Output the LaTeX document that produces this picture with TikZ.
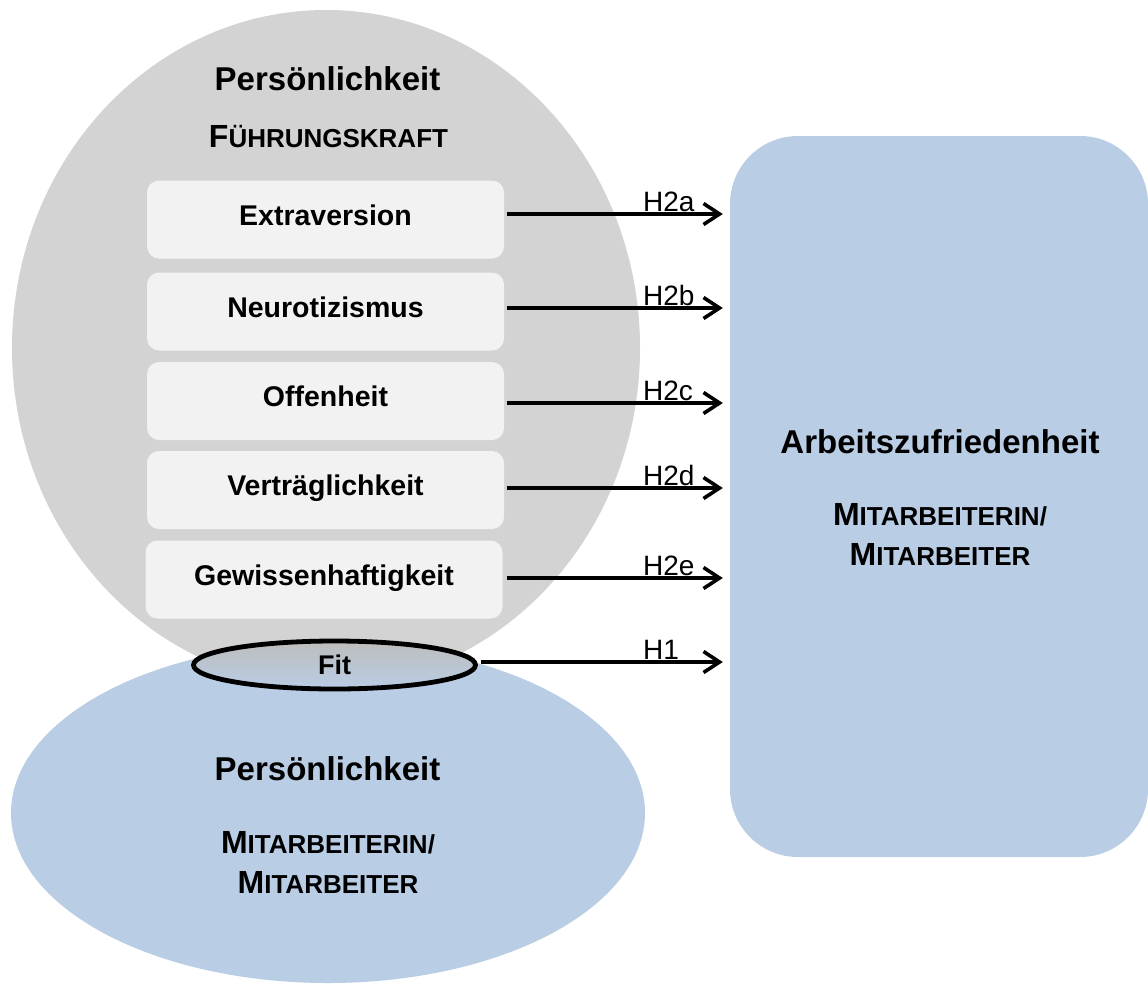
\documentclass[tikz,border=0pt]{standalone}
\usepackage{fontspec}
\setmainfont{Liberation Sans}
\usetikzlibrary{arrows.meta,shapes.geometric}
\definecolor{graycirc}{HTML}{D3D3D3}
\definecolor{bluefill}{HTML}{B9CDE5}
\definecolor{boxfill}{HTML}{F2F2F2}
\definecolor{fitgray}{HTML}{BDBDBD}
\newcommand{\fsz}[1]{\fontsize{#1}{#1}\selectfont}
\newcommand{\mysc}[2]{{\fsz{32}#1}{\fsz{26}#2}}
\begin{document}
\begin{tikzpicture}[x=1pt,y=-1pt,
  bigtxt/.style={inner sep=0pt, anchor=base, font=\bfseries\fsz{33}},
  sctxt/.style={inner sep=0pt, anchor=base, font=\bfseries},
  kbox/.style={rectangle, rounded corners=12pt, fill=boxfill, minimum width=357pt,
    minimum height=78pt, inner sep=0pt, text height=20.5pt, text depth=9pt,
    font=\bfseries\fsz{28.5}},
  harrow/.style={line width=3.6pt, -{Straight Barb[length=16pt,width=21pt]},
    shorten >=7pt},
  hlab/.style={inner sep=0pt, anchor=base west, font=\fsz{28}}]
\useasboundingbox (0,0) rectangle (1148,983);
% big shapes
\node[ellipse, fill=graycirc, minimum width=628pt, minimum height=676pt, inner sep=0pt] (fk) at (326,348) {};
\node[ellipse, fill=bluefill, minimum width=634pt, minimum height=340pt, inner sep=0pt] (ma) at (328,813) {};
\node[rectangle, rounded corners=68pt, fill=bluefill, minimum width=418pt, minimum height=721pt, inner sep=0pt] (az) at (939,496.5) {};
% titles
\node[bigtxt] (p1) at (327.5,90) {Persönlichkeit};
\node[sctxt] (f1) at (328.5,147) {\mysc{F}{ÜHRUNGSKRAFT}};
\node[bigtxt] (a1) at (940,453) {Arbeitszufriedenheit};
\node[sctxt] (a2) at (940,525) {\mysc{M}{ITARBEITERIN/}};
\node[sctxt] (a3) at (940,565) {\mysc{M}{ITARBEITER}};
\node[bigtxt] (p2) at (327.5,780) {Persönlichkeit};
\node[sctxt] (m2) at (328,853.5) {\mysc{M}{ITARBEITERIN/}};
\node[sctxt] (m3) at (328,893.5) {\mysc{M}{ITARBEITER}};
% trait boxes
\node[kbox] (ex) at (325.5,219.5) {Extraversion};
\node[kbox] (ne) at (325.5,311.5) {Neurotizismus};
\node[kbox] (of) at (325.5,401) {Offenheit};
\node[kbox] (ve) at (325.5,490) {Verträglichkeit};
\node[kbox] (ge) at (324,579.5) {Gewissenhaftigkeit};
% fit
\node[ellipse, draw=black, line width=4.8pt, top color=fitgray, bottom color=bluefill,
  minimum width=282pt, minimum height=48pt, inner sep=0pt, font=\bfseries\fsz{27}] (fit) at (334.5,665) {Fit};
% arrows
\draw[harrow, shorten <=3pt] ([yshift=5.5pt]ex.east) -- ([yshift=5.5pt]ex.east -| az.west);
\draw[harrow, shorten <=3pt] ([yshift=3.5pt]ne.east) -- ([yshift=3.5pt]ne.east -| az.west);
\draw[harrow, shorten <=3pt] ([yshift=-2pt]of.east) -- ([yshift=-2pt]of.east -| az.west);
\draw[harrow, shorten <=3pt] ([yshift=2pt]ve.east) -- ([yshift=2pt]ve.east -| az.west);
\draw[harrow, shorten <=4pt] ([yshift=1.5pt]ge.east) -- ([yshift=1.5pt]ge.east -| az.west);
\draw[harrow, shorten <=3pt] ([yshift=3pt]fit.east) -- ([yshift=3pt]fit.east -| az.west);
% labels
\node[hlab] (l2a) at (643,211) {H2a};
\node[hlab] (l2b) at (643,305) {H2b};
\node[hlab] (l2c) at (643,400) {H2c};
\node[hlab] (l2d) at (643,485) {H2d};
\node[hlab] (l2e) at (643,575) {H2e};
\node[hlab] (l1) at (643,659) {H1};
\end{tikzpicture}
\end{document}
